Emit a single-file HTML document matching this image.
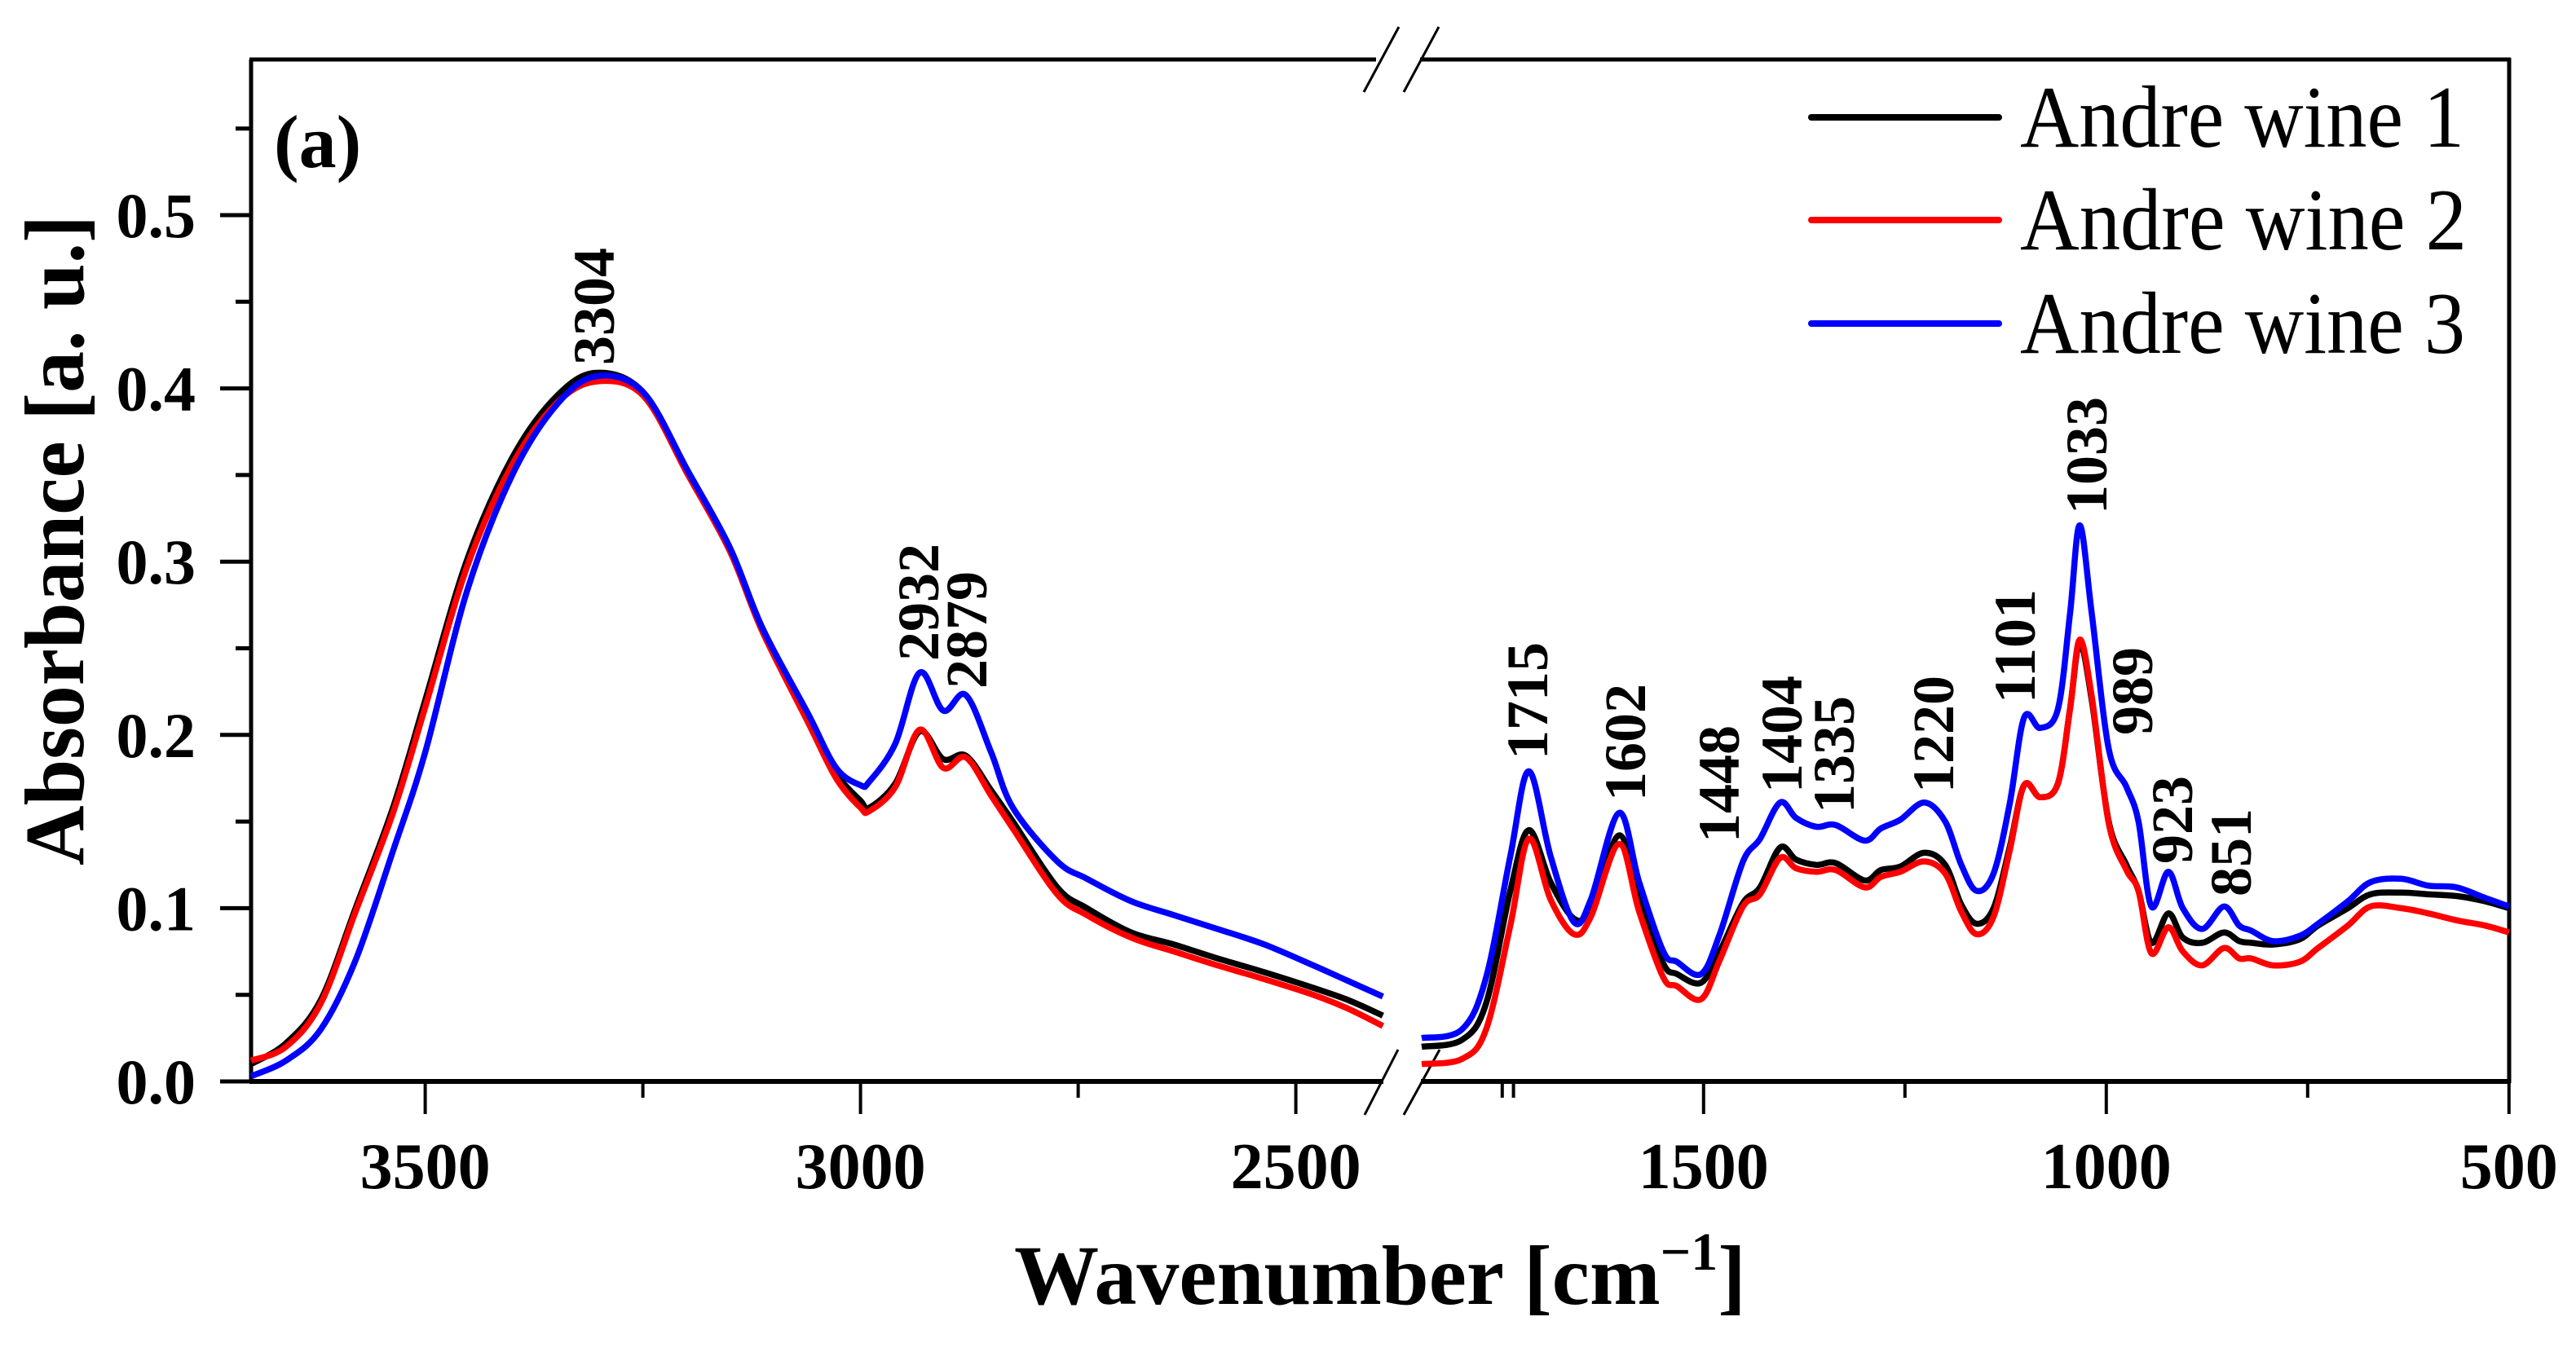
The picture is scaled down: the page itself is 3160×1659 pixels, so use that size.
<!DOCTYPE html>
<html><head><meta charset="utf-8"><style>
html,body{margin:0;padding:0;background:#fff;}
svg{display:block;}
text{font-family:"Liberation Serif","Times New Roman",serif;}
</style></head><body>
<svg id="chart" width="3160" height="1659" viewBox="0 0 3160 1659" xmlns="http://www.w3.org/2000/svg">
<rect width="3160" height="1659" fill="#fff"/>
<g id="axes"></g>
<g id="series"></g>
<g id="labels"></g>
<text x="336" y="205" font-size="92" font-weight="bold">(a)</text>
<text transform="translate(102,663) rotate(-90)" text-anchor="middle" font-size="104" font-weight="bold" textLength="798" lengthAdjust="spacingAndGlyphs">Absorbance [a. u.]</text>
<text x="1693" y="1600" text-anchor="middle" font-size="104" font-weight="bold">Wavenumber [cm<tspan font-size="66" dy="-42">−1</tspan><tspan dy="42">]</tspan></text>
<g>
<line x1="2222" y1="144" x2="2452" y2="144" stroke="#000" stroke-width="8" stroke-linecap="round"/>
<text x="2478" y="180" font-size="108" textLength="545" lengthAdjust="spacingAndGlyphs">Andre wine 1</text>
<line x1="2222" y1="270" x2="2452" y2="270" stroke="#f00" stroke-width="8" stroke-linecap="round"/>
<text x="2478" y="306" font-size="108" textLength="548" lengthAdjust="spacingAndGlyphs">Andre wine 2</text>
<line x1="2222" y1="397" x2="2452" y2="397" stroke="#00f" stroke-width="8" stroke-linecap="round"/>
<text x="2478" y="433" font-size="108" textLength="546" lengthAdjust="spacingAndGlyphs">Andre wine 3</text>
</g>
</svg>
<script>
const leftWn = [3700,3660,3620,3580,3537,3500,3452,3400,3350,3304,3250,3198,3150,3113,3060,3028,3000,2990,2960,2932,2905,2879,2850,2825,2774,2740,2689,2640,2590,2536,2480,2440,2400];
const leftWine1 = [0.010,0.022,0.047,0.10,0.158,0.220,0.301,0.360,0.395,0.409,0.398,0.352,0.308,0.262,0.210,0.178,0.162,0.158,0.172,0.202,0.186,0.188,0.168,0.150,0.112,0.100,0.086,0.079,0.071,0.063,0.054,0.047,0.038];
const leftWine2 = [0.012,0.020,0.045,0.098,0.155,0.216,0.297,0.356,0.391,0.404,0.396,0.350,0.306,0.260,0.207,0.175,0.158,0.156,0.170,0.203,0.181,0.187,0.165,0.146,0.108,0.096,0.083,0.075,0.067,0.059,0.050,0.042,0.032];
const leftWine3 = [0.003,0.012,0.030,0.070,0.133,0.190,0.283,0.350,0.390,0.407,0.398,0.352,0.308,0.262,0.212,0.181,0.171,0.173,0.195,0.236,0.214,0.223,0.190,0.158,0.127,0.117,0.104,0.096,0.088,0.079,0.067,0.058,0.049];
const rightWn = [1850,1800,1770,1740,1717,1690,1661,1640,1605,1580,1550,1533,1503,1480,1451,1430,1405,1385,1360,1336,1300,1280,1256,1226,1200,1180,1161,1140,1120,1102,1082,1060,1045,1033,1018,997,975,960,944,923,905,881,854,835,820,793,760,737,700,672,634,600,565,530,500];
const rightWine1 = [0.020,0.024,0.045,0.11,0.145,0.115,0.094,0.100,0.142,0.105,0.068,0.062,0.057,0.075,0.103,0.112,0.135,0.128,0.125,0.126,0.116,0.122,0.124,0.132,0.125,0.102,0.091,0.100,0.135,0.171,0.164,0.172,0.215,0.253,0.220,0.150,0.125,0.110,0.080,0.097,0.083,0.080,0.086,0.081,0.080,0.079,0.082,0.090,0.100,0.108,0.109,0.108,0.107,0.104,0.100];
const rightWine2 = [0.010,0.013,0.030,0.09,0.140,0.105,0.085,0.095,0.137,0.098,0.060,0.055,0.0475,0.070,0.101,0.108,0.129,0.123,0.121,0.122,0.112,0.118,0.121,0.127,0.120,0.098,0.085,0.095,0.133,0.171,0.164,0.172,0.215,0.255,0.222,0.149,0.122,0.110,0.074,0.089,0.075,0.067,0.077,0.071,0.071,0.067,0.069,0.077,0.090,0.101,0.100,0.097,0.093,0.090,0.086];
const rightWine3 = [0.025,0.030,0.060,0.13,0.179,0.130,0.092,0.105,0.155,0.115,0.075,0.069,0.062,0.085,0.127,0.140,0.161,0.152,0.147,0.148,0.139,0.146,0.151,0.161,0.150,0.125,0.110,0.120,0.160,0.210,0.204,0.215,0.270,0.321,0.270,0.192,0.170,0.150,0.101,0.121,0.100,0.088,0.101,0.090,0.087,0.081,0.084,0.091,0.104,0.115,0.117,0.113,0.112,0.106,0.101];
const yTicks = ["0.0","0.1","0.2","0.3","0.4","0.5"];
const leftTicks = [3500,3000,2500];
const rightTicks = [1500,1000,500];
const peakWn = ["3304","2932","2879","1715","1602","1448","1404","1335","1220","1101","1033","989","923","851"];

const NS="http://www.w3.org/2000/svg";
function xL(w){return 308+(3700-w)*1.068;}
function xR(w){return 1744+(1850-w)*0.988;}
function yV(v){return 1327-v*2126;}
function mk(tag,attrs,parent){const e=document.createElementNS(NS,tag);for(const k in attrs)e.setAttribute(k,attrs[k]);parent.appendChild(e);return e;}

const axes=document.getElementById('axes');
function ln(x1,y1,x2,y2,w,name){const e=mk('line',{x1:x1,y1:y1,x2:x2,y2:y2,stroke:'#000','stroke-width':w},axes);


return e;}
ln(308,73,308,1329,5,'y-axis-line');
ln(306,1327,1697,1327,6,'x-axis-line-left');
ln(1743,1327,3080,1327,6,'x-axis-line-right');
ln(306,73,1688,73,5,'top-frame-left');
ln(1742,73,3080,73,5,'top-frame-right');
ln(3078,71,3078,1329,5,'right-frame');
ln(1716,33,1673,113,3,'break-mark-top-1');
ln(1765,33,1722,113,3,'break-mark-top-2');
ln(1715,1288,1674,1368,3,'break-mark-bottom-1');
ln(1766,1288,1722,1368,3,'break-mark-bottom-2');
for(let i=0;i<=11;i++){const v=i*0.05;const y=yV(v);const major=i%2===0;
 ln(major?270:289,y,308,y,5,major?'y-tick-major':'y-tick-minor');}
yTicks.forEach(t=>{const e=mk('text',{x:240,y:yV(parseFloat(t))+27,'text-anchor':'end','font-size':78,'font-weight':'bold'},axes);e.textContent=t;

});
leftTicks.forEach(w=>{ln(xL(w),1327,xL(w),1367,4,'x-tick-major');ln(xL(w-250),1327,xL(w-250),1347,4,'x-tick-minor');
 const e=mk('text',{x:xL(w),y:1458,'text-anchor':'middle','font-size':80,'font-weight':'bold'},axes);e.textContent=w;
 
 });
rightTicks.forEach(w=>{ln(xR(w),1327,xR(w),1367,4,'x-tick-major');if(w+250<1850)ln(xR(w+250),1327,xR(w+250),1347,4,'x-tick-minor');
 const e=mk('text',{x:xR(w),y:1458,'text-anchor':'middle','font-size':80,'font-weight':'bold'},axes);e.textContent=w;
 
 });

function smooth(pts){let d='M'+pts[0][0].toFixed(1)+','+pts[0][1].toFixed(1);
 for(let i=0;i<pts.length-1;i++){const p0=pts[Math.max(0,i-1)],p1=pts[i],p2=pts[i+1],p3=pts[Math.min(pts.length-1,i+2)];
  const c1=[p1[0]+(p2[0]-p0[0])/6,p1[1]+(p2[1]-p0[1])/6],c2=[p2[0]-(p3[0]-p1[0])/6,p2[1]-(p3[1]-p1[1])/6];
  d+=' C'+c1[0].toFixed(1)+','+c1[1].toFixed(1)+' '+c2[0].toFixed(1)+','+c2[1].toFixed(1)+' '+p2[0].toFixed(1)+','+p2[1].toFixed(1);}
 return d;}
const sg=document.getElementById('series');
const defs=[['#000',leftWine1,rightWine1,'wine-1'],['#f00',leftWine2,rightWine2,'wine-2'],['#00f',leftWine3,rightWine3,'wine-3']];
defs.forEach(([c,lv,rv,n])=>{
 const p1=mk('path',{d:smooth(leftWn.map((w,i)=>[xL(w),yV(lv[i])])),fill:'none',stroke:c,'stroke-width':7.5,'stroke-linejoin':'round'},sg);
 
 
 const p2=mk('path',{d:smooth(rightWn.map((w,i)=>[xR(w),yV(rv[i])])),fill:'none',stroke:c,'stroke-width':7.5,'stroke-linejoin':'round'},sg);
 
 
});
const lpos={"3304":[753,448],"2932":[1151,811],"2879":[1210,845],"1715":[1898,932],"1602":[2018,983],"1448":[2133,1034],"1404":[2210,973],"1335":[2274,998],"1220":[2396,973],"1101":[2496,863],"1033":[2584,631],"989":[2640,902],"923":[2689,1060],"851":[2761,1100]};
const lg=document.getElementById('labels');
peakWn.forEach(t=>{const p=lpos[t];const e=mk('text',{transform:'translate('+p[0]+','+p[1]+') rotate(-90)','font-size':72,'font-weight':'bold'},lg);e.textContent=t;
 
 });
</script>
</body></html>
